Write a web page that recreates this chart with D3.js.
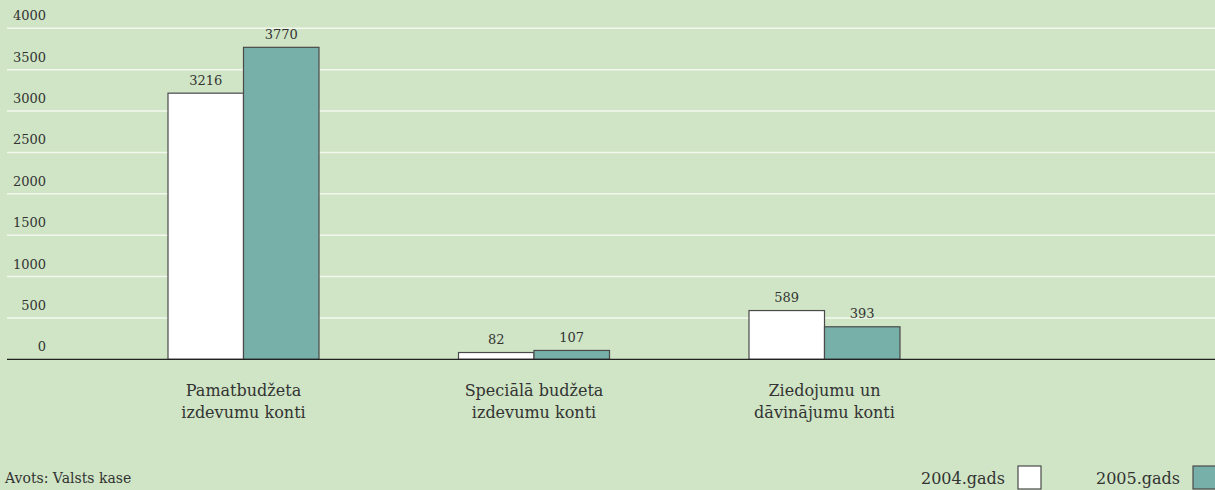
<!DOCTYPE html>
<html>
<head>
<meta charset="utf-8">
<script src="https://cdn.jsdelivr.net/npm/d3@7"></script>
<style>
  html, body { margin: 0; padding: 0; background: #cfe5c5; }
  svg { display: block; }
</style>
</head>
<body>
<svg width="1215" height="490"></svg>
<script>
// categories, two lines each
const categories = [
  ["Pamatbudžeta", "izdevumu konti"],
  ["Speciālā budžeta", "izdevumu konti"],
  ["Ziedojumu un", "dāvinājumu konti"]
];
const years = ["2004.gads", "2005.gads"];
const values2004 = [3216, 82, 589];
const values2005 = [3770, 107, 393];
const yTicks = [0, 500, 1000, 1500, 2000, 2500, 3000, 3500, 4000];
const source = "Avots: Valsts kase";

const colors = ["#ffffff", "#76b0a8"];

const svg = d3.select("svg")
              .style("font-family", "'DejaVu Serif', serif");
const width = 1215;

// y scale
const y = d3.scaleLinear()
            .domain([0, 4000])
            .range([359.3, 28.3]);

// groups of bars
const x0 = d3.scaleBand()
             .domain(d3.range(categories.length))
             .range([98.25, 969.75])
             .padding(0);

const x1 = d3.scaleBand()
             .domain(years)
             .range([x0.bandwidth() / 2 - 75.5, x0.bandwidth() / 2 + 75.5])
             .padding(0);

// gridlines
svg.append("g")
   .selectAll("line")
   .data(yTicks.filter(d => d > 0))
   .enter()
   .append("line")
   .attr("x1", 7)
   .attr("x2", width)
   .attr("y1", d => y(d))
   .attr("y2", d => y(d))
   .style("stroke", "#f3f8ef")
   .style("stroke-width", 1.5);

// y labels sit above their gridline
svg.append("g")
   .selectAll("text")
   .data(yTicks)
   .enter()
   .append("text")
   .attr("x", 46)
   .attr("y", d => y(d) - 8)
   .attr("text-anchor", "end")
   .style("font-size", "13px")
   .style("fill", "#333")
   .text(d => d);

// bars
const rows = categories.map((c, i) => [
  { year: years[0], value: values2004[i], color: colors[0] },
  { year: years[1], value: values2005[i], color: colors[1] }
]);

const groups = svg.append("g")
                  .selectAll("g")
                  .data(rows)
                  .enter()
                  .append("g")
                  .attr("transform", (d, i) => "translate(" + x0(i) + ",0)");

groups.selectAll("rect")
      .data(d => d)
      .enter()
      .append("rect")
      .attr("x", d => x1(d.year))
      .attr("y", d => y(d.value))
      .attr("width", x1.bandwidth())
      .attr("height", d => y(0) - y(d.value))
      .attr("fill", d => d.color)
      .style("stroke", "#4a4a4a")
      .style("stroke-width", 1.2);

// value labels
groups.selectAll("text")
      .data(d => d)
      .enter()
      .append("text")
      .attr("x", d => x1(d.year) + x1.bandwidth() / 2)
      .attr("y", d => y(d.value) - 8.5)
      .attr("text-anchor", "middle")
      .style("font-size", "13px")
      .style("fill", "#333")
      .text(d => d.value);

// baseline
svg.append("line")
   .attr("x1", 7)
   .attr("x2", width)
   .attr("y1", y(0))
   .attr("y2", y(0))
   .style("stroke", "#222")
   .style("stroke-width", 1.3);

// category labels
const catLabels = svg.append("g")
                     .selectAll("text")
                     .data(categories)
                     .enter()
                     .append("text")
                     .attr("text-anchor", "middle")
                     .style("font-size", "16px")
                     .style("fill", "#333");

catLabels.selectAll("tspan")
         .data((d, i) => d.map(t => ({ t: t, i: i })))
         .enter()
         .append("tspan")
         .attr("x", d => x0(d.i) + x0.bandwidth() / 2)
         .attr("y", (d, j) => 396 + j * 21.5)
         .text(d => d.t);

// source
svg.append("text")
   .attr("x", 5)
   .attr("y", 483)
   .style("font-size", "14px")
   .style("fill", "#333")
   .text(source);

// legend
const legendX = [1018, 1193];
const legend = svg.append("g")
                  .selectAll("g")
                  .data(years)
                  .enter()
                  .append("g")
                  .attr("transform", (d, i) => "translate(" + legendX[i] + ",466)");

legend.append("rect")
      .attr("width", 23)
      .attr("height", 23)
      .attr("fill", (d, i) => colors[i])
      .style("stroke", "#4a4a4a")
      .style("stroke-width", 1.2);

legend.append("text")
      .attr("x", -13)
      .attr("y", 18)
      .attr("text-anchor", "end")
      .style("font-size", "16px")
      .style("fill", "#333")
      .text(d => d);
</script>
</body>
</html>
